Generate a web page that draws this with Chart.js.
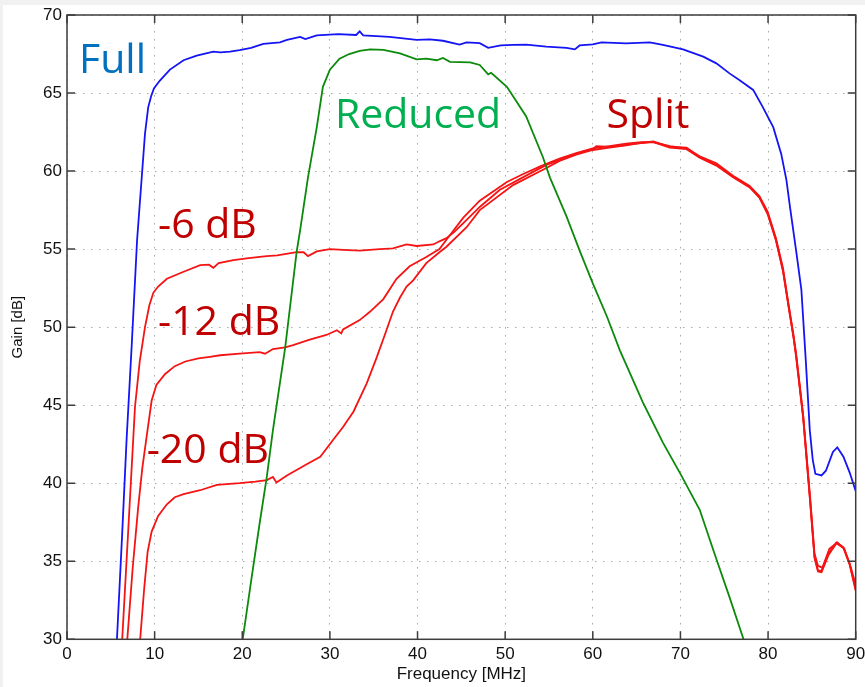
<!DOCTYPE html>
<html>
<head>
<meta charset="utf-8">
<script src="https://cdn.jsdelivr.net/npm/chart.js@4.4.1/dist/chart.umd.min.js"></script>
<style>
  html, body { margin: 0; padding: 0; background: #f1f1f1; }
  #panel { position: absolute; left: 3px; top: 5px; width: 862px; height: 682px; background: #fff; }
  canvas { display: block; }
</style>
</head>
<body>
<div id="panel"><canvas id="gain" width="862" height="682"></canvas></div>
<script>
// axis ranges and ticks
const freqTicks = [0, 10, 20, 30, 40, 50, 60, 70, 80, 90];
const gainTicks = [30, 35, 40, 45, 50, 55, 60, 65, 70];

// [frequency MHz, gain dB]
const fullGain = [[5.7,30],[6.3,36.8],[6.8,42.8],[7.4,49.0],[8.0,55.6],[8.33,58.1],[8.9,62.4],[9.27,64.1],[9.6,64.8],[9.92,65.3],[10.6,65.8],[11.75,66.5],[13.3,67.1],[14.8,67.4],[16.7,67.65],[17.5,67.6],[18.6,67.65],[19.7,67.75],[21.0,67.9],[22.4,68.15],[24.3,68.25],[25.1,68.4],[26.6,68.6],[27.2,68.46],[28.5,68.7],[30.95,68.78],[33.0,68.72],[33.4,68.95],[33.8,68.7],[36.8,68.6],[39.9,68.4],[41.4,68.44],[42.9,68.35],[44.8,68.1],[45.6,68.25],[47.1,68.2],[48.06,67.9],[49.5,68.05],[50.9,68.08],[52.4,68.1],[54.7,67.97],[57.0,67.9],[57.95,67.8],[58.5,68.05],[60.0,68.12],[61.0,68.25],[63.8,68.18],[66.5,68.25],[68.0,68.08],[70.3,67.8],[72.6,67.33],[74.1,66.9],[75.6,66.26],[76.8,65.8],[78.3,65.2],[79.4,64.1],[80.6,62.8],[81.5,61.1],[82.1,59.4],[82.5,57.7],[83.2,54.9],[83.8,52.4],[84.3,47.9],[84.76,43.4],[85.1,41.5],[85.4,40.6],[86.1,40.5],[86.6,40.8],[87.4,42.0],[87.9,42.3],[88.6,41.7],[89.3,40.7],[90,39.5]];

const reducedGain = [[20.05,30],[21.0,33.7],[22.0,37.5],[22.8,40.4],[23.5,43.4],[24.9,48.7],[26.2,54.8],[26.6,56.2],[27.5,59.6],[28.5,62.8],[29.2,65.4],[30.0,66.5],[31.1,67.2],[32.2,67.5],[33.4,67.7],[34.6,67.8],[36.1,67.76],[38.0,67.54],[39.9,67.16],[41.0,67.2],[42.2,67.1],[42.9,67.25],[43.7,67.0],[46.0,66.97],[47.1,66.8],[48.06,66.2],[48.4,66.3],[50.2,65.4],[52.4,63.5],[54.3,60.9],[55.1,59.6],[57.0,57.1],[58.5,54.9],[60.0,52.8],[61.6,50.7],[63.1,48.5],[65.7,45.2],[68.0,42.6],[70.0,40.6],[72.2,38.3],[74.0,35.3],[75.6,32.7],[77.2,30]];

const split6Gain = [[6.3,30],[7.0,37.1],[7.76,44.9],[8.3,47.8],[8.9,50.0],[9.4,51.4],[9.85,52.2],[10.4,52.6],[11.4,53.1],[13.3,53.55],[15.2,53.97],[16.2,54.0],[16.7,53.8],[17.3,54.1],[19.0,54.3],[20.5,54.4],[22.0,54.5],[22.8,54.55],[24.0,54.6],[26.2,54.8],[27.0,54.8],[27.5,54.55],[28.5,54.85],[30,55.0],[31.5,54.95],[33.4,54.9],[35.7,55.0],[37.2,55.05],[38.75,55.3],[39.9,55.2],[41.8,55.3],[42.5,55.5],[43.3,55.7],[44.2,56.1],[45.2,56.65],[47.1,57.7],[49.4,58.8],[51.7,59.5],[54.7,60.4],[56.2,60.7],[58.1,61.1],[60.0,61.4],[60.4,61.6],[61.9,61.55],[63.8,61.7],[65.5,61.8],[66.9,61.9],[68.8,61.55],[70.7,61.5],[72.2,60.9],[74.1,60.4],[76.0,59.65],[77.9,59.0],[79.0,58.35],[79.95,57.3],[80.9,55.6],[81.7,53.65],[82.3,51.5],[82.9,49.4],[83.2,48.2],[84.0,44.3],[84.8,38.9],[85.3,35.3],[85.7,34.4],[86.1,34.4],[86.9,35.5],[87.8,36.2],[88.6,35.9],[89.3,34.85],[90,33.2]];

const split12Gain = [[6.88,30],[7.5,34.6],[8.13,38.5],[8.6,41.0],[9.09,43.0],[9.66,45.3],[10.2,46.3],[11.2,47.0],[12.3,47.5],[13.5,47.8],[15.0,48.0],[16.3,48.1],[17.5,48.2],[19.7,48.3],[22.0,48.4],[22.6,48.3],[23.5,48.6],[24.9,48.7],[25.8,48.85],[27.7,49.2],[29.6,49.5],[30.8,49.8],[31.3,49.6],[31.5,49.85],[33.4,50.45],[34.6,51.0],[36.1,51.8],[37.6,53.1],[39.1,53.9],[41.0,54.5],[42.5,55.0],[43.3,55.6],[45.2,57.0],[47.1,58.1],[50.2,59.3],[52.0,59.8],[54.0,60.3],[56.2,60.8],[58.1,61.15],[60.0,61.45],[61.9,61.6],[63.8,61.75],[65.5,61.85],[66.9,61.85],[68.8,61.6],[70.7,61.45],[72.2,60.95],[74.1,60.5],[76.0,59.7],[77.9,59.05],[79.0,58.4],[79.95,57.4],[80.9,55.7],[81.7,53.8],[82.3,51.6],[82.9,49.5],[83.2,48.3],[84.0,44.4],[84.8,39.1],[85.3,35.5],[85.7,34.7],[86.2,34.6],[87.0,35.8],[87.9,36.2],[88.7,35.8],[89.4,34.7],[90,33.5]];

const split20Gain = [[8.35,30],[8.8,33.2],[9.2,35.6],[9.66,36.9],[10.4,37.9],[11.4,38.65],[12.3,39.1],[13.3,39.3],[15.2,39.55],[17.1,39.9],[19.7,40.0],[21.5,40.1],[22.8,40.2],[23.5,40.4],[23.9,40.05],[25.1,40.5],[27.3,41.2],[28.9,41.7],[30.4,42.8],[31.5,43.6],[32.7,44.6],[34.2,46.4],[35.3,48.0],[36.2,49.4],[37.2,51.0],[38.0,51.9],[38.75,52.6],[39.5,53.0],[41.0,54.1],[42.5,54.8],[43.3,55.15],[45.6,56.4],[47.1,57.5],[50.9,59.1],[54.7,60.2],[56.2,60.65],[58.1,61.05],[60.0,61.35],[61.9,61.5],[63.8,61.65],[65.5,61.8],[66.9,61.85],[68.8,61.5],[70.7,61.4],[72.2,60.85],[74.1,60.35],[76.0,59.6],[77.9,58.95],[79.0,58.3],[79.95,57.25],[80.9,55.55],[81.7,53.6],[82.3,51.45],[82.9,49.35],[83.2,48.1],[84.0,44.2],[84.8,38.8],[85.3,35.2],[85.7,34.35],[86.1,34.3],[86.9,35.4],[87.8,36.15],[88.6,35.85],[89.3,34.8],[90,33.1]];

// text written over the plot, anchored in data units (left edge, baseline)
const curveLabels = [
  { text: 'Full',    x: 1.37,  y: 66.28, color: '#0070c0' },
  { text: 'Reduced', x: 30.57, y: 62.76, color: '#00b050' },
  { text: 'Split',   x: 61.57, y: 62.76, color: '#c00000' },
  { text: '-6 dB',   x: 10.38, y: 55.7,  color: '#c00000' },
  { text: '-12 dB',  x: 10.38, y: 49.49, color: '#c00000' },
  { text: '-20 dB',  x: 9.09,  y: 41.28, color: '#c00000' }
];

const toPoints = arr => arr.map(([x, y]) => ({ x, y }));
const lineSet = (data, color) => ({
  data: toPoints(data),
  borderColor: color,
  borderWidth: 1.8,
  pointRadius: 0,
  fill: false,
  tension: 0
});

const axisFont = { family: '"Liberation Sans", Arial, sans-serif', size: 17 };
const tickMark = 8;

// box around the plot with inward tick marks on all four sides
const boxPlugin = {
  id: 'axesBox',
  afterDraw(chart) {
    const { ctx, chartArea: a, scales: { x, y } } = chart;
    ctx.save();
    ctx.strokeStyle = '#3d3d3d';
    ctx.lineWidth = 1.5;
    ctx.strokeRect(a.left, a.top, a.right - a.left, a.bottom - a.top);
    ctx.beginPath();
    freqTicks.forEach(v => {
      const px = x.getPixelForValue(v);
      ctx.moveTo(px, a.bottom); ctx.lineTo(px, a.bottom - tickMark);
      ctx.moveTo(px, a.top); ctx.lineTo(px, a.top + tickMark);
    });
    gainTicks.forEach(v => {
      const py = y.getPixelForValue(v);
      ctx.moveTo(a.left, py); ctx.lineTo(a.left + tickMark, py);
      ctx.moveTo(a.right, py); ctx.lineTo(a.right - tickMark, py);
    });
    ctx.stroke();
    ctx.restore();
  }
};

const labelPlugin = {
  id: 'curveLabels',
  afterDatasetsDraw(chart) {
    const { ctx, scales: { x, y } } = chart;
    ctx.save();
    ctx.font = '41px "Open Sans", "Noto Sans", sans-serif';
    ctx.textAlign = 'left';
    ctx.textBaseline = 'alphabetic';
    curveLabels.forEach(l => {
      ctx.fillStyle = l.color;
      ctx.fillText(l.text, x.getPixelForValue(l.x), y.getPixelForValue(l.y));
    });
    ctx.restore();
  }
};

new Chart(document.getElementById('gain'), {
  type: 'line',
  data: {
    datasets: [
      lineSet(reducedGain, '#0b8a0b'),
      lineSet(fullGain, '#1414f5'),
      lineSet(split6Gain, '#f51414'),
      lineSet(split12Gain, '#f51414'),
      lineSet(split20Gain, '#f51414')
    ]
  },
  options: {
    responsive: false,
    animation: false,
    devicePixelRatio: 1,
    layout: { padding: { left: 0, top: 10, right: 9.3, bottom: 0 } },
    plugins: { legend: { display: false }, tooltip: { enabled: false } },
    scales: {
      x: {
        type: 'linear',
        min: 0, max: 90,
        afterBuildTicks: s => { s.ticks = freqTicks.map(v => ({ value: v })); },
        afterFit: s => { s.height = 47.7; s.paddingLeft = 0; s.paddingRight = 0; },
        ticks: { color: '#111', font: axisFont, padding: 5, maxRotation: 0 },
        grid: { color: '#a8a8a8', lineWidth: 1, drawTicks: false },
        border: { display: false, dash: [1.5, 6.5] },
        title: { display: true, text: 'Frequency [MHz]', color: '#111', font: axisFont, padding: { top: 0, bottom: 2 } }
      },
      y: {
        type: 'linear',
        min: 30, max: 70,
        afterBuildTicks: s => { s.ticks = gainTicks.map(v => ({ value: v })); },
        afterFit: s => { s.width = 64; s.paddingTop = 0; s.paddingBottom = 0; },
        ticks: { color: '#111', font: axisFont, padding: 5 },
        grid: { color: '#a8a8a8', lineWidth: 1, drawTicks: false },
        border: { display: false, dash: [1.5, 6.5] },
        title: { display: true, text: 'Gain [dB]', color: '#111', font: { family: axisFont.family, size: 15 }, padding: { top: 6, bottom: 0 } }
      }
    }
  },
  plugins: [labelPlugin, boxPlugin]
});
</script>
</body>
</html>
